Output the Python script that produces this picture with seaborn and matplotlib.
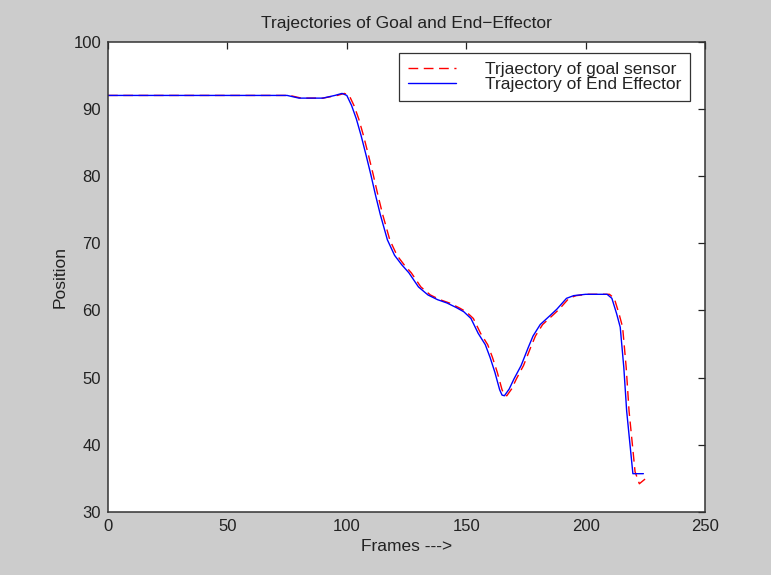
import matplotlib
matplotlib.use("Agg")
import matplotlib.pyplot as plt
import seaborn as sns
import pandas as pd

# End-effector trajectory (frame, position)
effector_frames = [0, 75, 80, 90, 95, 98, 100, 102, 104, 106, 108, 110, 112, 114,
                   117, 120, 123, 126, 130, 134, 138, 142, 146, 149, 152, 155, 158,
                   160, 162, 164, 165, 166, 168, 170, 173, 176, 178, 181, 185, 188,
                   192, 195, 200, 205, 209, 211, 213, 214.5, 216, 217.2, 218.6,
                   219.8, 224.2]
effector_pos = [92.0, 92.0, 91.6, 91.6, 92.0, 92.3, 92.0, 90.5, 88.5, 86.0, 83.2,
                80.3, 77.2, 74.3, 70.5, 68.2, 66.8, 65.6, 63.5, 62.3, 61.6, 61.1,
                60.4, 59.8, 58.8, 56.6, 54.9, 53.0, 50.8, 48.2, 47.4, 47.3, 48.3,
                49.8, 51.8, 54.5, 56.2, 57.9, 59.2, 60.2, 61.8, 62.2, 62.4, 62.4,
                62.4, 61.8, 59.5, 57.5, 51.5, 45.0, 40.0, 35.7, 35.7]

# Goal sensor trajectory (frame, position)
goal_frames = [0, 76, 81, 90, 96, 99, 101, 103, 105, 107, 109, 111, 113, 115, 118,
               121, 124, 127, 131, 135, 139, 143, 147, 150, 153, 156, 159, 161, 163,
               165, 166, 167, 169, 171, 174, 177, 179, 182, 186, 189, 193, 196, 201,
               206, 210, 212, 214, 215.5, 217, 218.2, 219.6, 220.7, 221.8, 222.5,
               224.9]
goal_pos = [92.0, 92.0, 91.6, 91.6, 92.0, 92.3, 92.0, 90.5, 88.5, 86.0, 83.2, 80.3,
            77.2, 74.3, 70.5, 68.2, 66.8, 65.6, 63.5, 62.3, 61.6, 61.1, 60.4, 59.8,
            58.8, 56.6, 54.9, 53.0, 50.8, 48.2, 47.4, 47.3, 48.3, 49.8, 51.8, 54.5,
            56.2, 57.9, 59.2, 60.2, 61.8, 62.2, 62.4, 62.4, 62.4, 61.8, 59.5, 57.5,
            51.5, 45.0, 40.0, 36.0, 34.9, 34.2, 34.9]

x_ticks = [0, 50, 100, 150, 200, 250]
y_ticks = [30, 40, 50, 60, 70, 80, 90, 100]

sns.set_style("white")
plt.rcParams["font.family"] = ["Liberation Sans", "DejaVu Sans"]
plt.rcParams["axes.unicode_minus"] = True

fig = plt.figure(figsize=(7.71, 5.75), dpi=100, facecolor="#cccccc")
ax = fig.add_axes([0.1401, 0.1096, 0.7743, 0.8179])
ax.set_facecolor("white")

goal_df = pd.DataFrame({"frame": goal_frames, "pos": goal_pos})
eff_df = pd.DataFrame({"frame": effector_frames, "pos": effector_pos})

sns.lineplot(data=goal_df, x="frame", y="pos", ax=ax, color="#ff0000",
             linewidth=1.0, linestyle=(0, (7, 4)), estimator=None, sort=False,
             label="Trjaectory of goal sensor")
sns.lineplot(data=eff_df, x="frame", y="pos", ax=ax, color="#0000ff",
             linewidth=1.0, estimator=None, sort=False,
             label="Trajectory of End Effector")

ax.set_xlim(0, 250)
ax.set_ylim(30, 100)
ax.set_xticks(x_ticks)
ax.set_yticks(y_ticks)
ax.tick_params(direction="in", length=5, width=0.9, top=True, right=True,
               labelsize=12, colors="#222222", pad=5)
for s in ax.spines.values():
    s.set_color("#333333")
    s.set_linewidth(1.1)

ax.set_title("Trajectories of Goal and End\u2212Effector", fontsize=12.5, pad=10,
             color="#222222")
ax.set_xlabel("Frames --->", fontsize=12.5, labelpad=4, color="#222222")
ax.set_ylabel("Position", fontsize=12.5, labelpad=4, color="#222222")

leg = ax.legend(loc="upper right", bbox_to_anchor=(0.975, 0.976),
                borderaxespad=0, fontsize=12.5, frameon=True, fancybox=False,
                handlelength=2.8, handletextpad=1.65, labelspacing=0.0,
                borderpad=0.5)
leg.get_frame().set_edgecolor("black")
leg.get_frame().set_linewidth(0.9)
for t in leg.get_texts():
    t.set_color("#222222")

fig.savefig("out.png", dpi=100, facecolor=fig.get_facecolor())
